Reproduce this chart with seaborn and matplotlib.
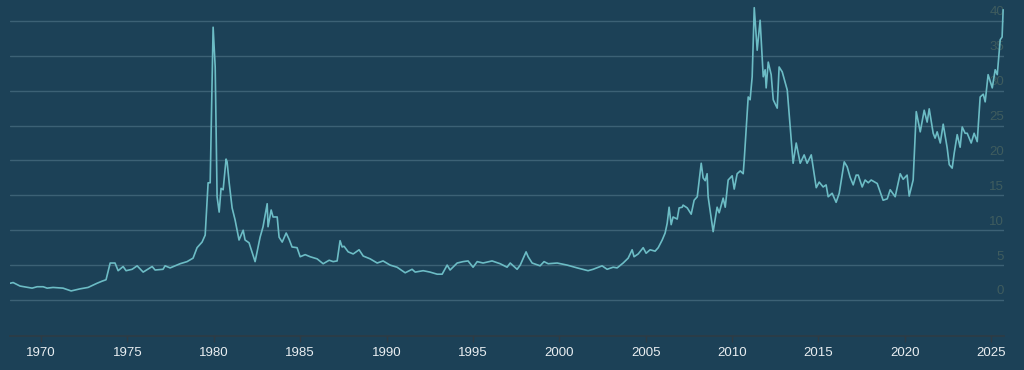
import matplotlib
matplotlib.use("Agg")
import matplotlib.pyplot as plt
import matplotlib.transforms as mtransforms
import seaborn as sns
import pandas as pd

# Data (decimal year, price)
years = [
    1968.21, 1968.38, 1968.78, 1969.48, 1969.77, 1970.12, 1970.35, 1970.69, 1971.27, 1971.74,
    1972.26, 1972.72, 1973.24, 1973.53, 1973.76, 1974.00, 1974.28, 1974.46, 1974.75, 1974.92,
    1975.27, 1975.56, 1975.91, 1976.43, 1976.60, 1977.06, 1977.18, 1977.47, 1978.05, 1978.45,
    1978.80, 1979.03, 1979.32, 1979.50, 1979.67, 1979.79, 1979.96, 1980.08, 1980.19, 1980.31,
    1980.42, 1980.54, 1980.71, 1980.77, 1980.89, 1981.06, 1981.23, 1981.46, 1981.70, 1981.81,
    1982.04, 1982.39, 1982.68, 1982.85, 1983.09, 1983.14, 1983.32, 1983.43, 1983.67, 1983.78,
    1983.96, 1984.19, 1984.36, 1984.53, 1984.82, 1985.00, 1985.29, 1985.58, 1985.98, 1986.33,
    1986.68, 1986.91, 1987.14, 1987.31, 1987.43, 1987.54, 1987.78, 1988.07, 1988.41, 1988.65,
    1989.05, 1989.46, 1989.80, 1990.21, 1990.61, 1991.08, 1991.48, 1991.66, 1992.12, 1992.52,
    1992.93, 1993.22, 1993.51, 1993.68, 1994.09, 1994.43, 1994.72, 1995.01, 1995.25, 1995.59,
    1996.11, 1996.58, 1996.98, 1997.16, 1997.56, 1997.74, 1998.08, 1998.20, 1998.43, 1998.89,
    1999.12, 1999.36, 1999.88, 2000.46, 2001.04, 2001.67, 2001.96, 2002.48, 2002.77, 2003.12,
    2003.35, 2003.70, 2003.99, 2004.22, 2004.33, 2004.57, 2004.86, 2005.03, 2005.26, 2005.55,
    2005.73, 2005.96, 2006.13, 2006.25, 2006.36, 2006.48, 2006.59, 2006.83, 2006.94, 2007.12,
    2007.17, 2007.41, 2007.64, 2007.81, 2007.99, 2008.22, 2008.33, 2008.45, 2008.56, 2008.62,
    2008.91, 2009.14, 2009.26, 2009.49, 2009.61, 2009.78, 2010.01, 2010.13, 2010.30, 2010.48,
    2010.65, 2010.71, 2010.94, 2011.05, 2011.17, 2011.29, 2011.46, 2011.63, 2011.81, 2011.92,
    2011.98, 2012.10, 2012.27, 2012.39, 2012.62, 2012.73, 2012.91, 2013.20, 2013.54, 2013.72,
    2013.95, 2014.18, 2014.35, 2014.59, 2014.88, 2015.05, 2015.28, 2015.45, 2015.57, 2015.80,
    2016.03, 2016.21, 2016.50, 2016.67, 2016.84, 2017.02, 2017.19, 2017.31, 2017.54, 2017.71,
    2017.89, 2018.06, 2018.41, 2018.58, 2018.75, 2018.99, 2019.16, 2019.45, 2019.74, 2019.91,
    2020.14, 2020.26, 2020.49, 2020.67, 2020.90, 2021.13, 2021.30, 2021.42, 2021.65, 2021.76,
    2021.88, 2022.06, 2022.23, 2022.46, 2022.58, 2022.75, 2022.87, 2023.04, 2023.21, 2023.33,
    2023.50, 2023.62, 2023.85, 2024.02, 2024.20, 2024.37, 2024.55, 2024.66, 2024.83, 2025.07,
    2025.24, 2025.36, 2025.53, 2025.64, 2025.70,
]
prices = [
    2.4, 2.5, 2.0, 1.7, 1.9, 1.9, 1.7, 1.8, 1.7, 1.3,
    1.6, 1.8, 2.4, 2.7, 2.9, 5.3, 5.3, 4.2, 4.8, 4.2,
    4.4, 4.9, 4.0, 4.8, 4.3, 4.4, 4.9, 4.6, 5.2, 5.5,
    6.0, 7.5, 8.3, 9.3, 16.8, 16.8, 39.1, 33.4, 14.8, 12.6,
    16.0, 15.8, 20.2, 19.8, 16.8, 13.2, 11.5, 8.6, 10.0, 8.6,
    8.2, 5.5, 9.0, 10.5, 13.8, 10.5, 12.9, 11.9, 11.9, 9.0,
    8.3, 9.6, 8.7, 7.6, 7.5, 6.2, 6.5, 6.2, 5.9, 5.2,
    5.7, 5.5, 5.6, 8.5, 7.6, 7.7, 6.9, 6.6, 7.2, 6.3,
    5.9, 5.3, 5.6, 5.0, 4.7, 3.9, 4.4, 4.0, 4.2, 4.0,
    3.7, 3.7, 5.0, 4.3, 5.3, 5.5, 5.6, 4.7, 5.5, 5.3,
    5.6, 5.2, 4.7, 5.3, 4.4, 5.0, 6.9, 6.2, 5.3, 4.9,
    5.5, 5.2, 5.3, 5.0, 4.6, 4.2, 4.4, 4.9, 4.4, 4.7,
    4.6, 5.3, 6.0, 7.2, 6.2, 6.6, 7.5, 6.7, 7.2, 7.0,
    7.5, 8.6, 9.6, 11.0, 13.3, 10.8, 11.9, 11.6, 13.2, 13.3,
    13.6, 13.2, 12.3, 14.3, 14.8, 19.6, 17.5, 17.1, 18.1, 14.8,
    9.8, 13.3, 12.5, 14.6, 13.3, 17.2, 17.8, 15.9, 18.1, 18.5,
    18.1, 20.1, 29.1, 28.7, 32.0, 41.9, 35.8, 40.1, 32.0, 33.0,
    30.4, 34.1, 32.3, 28.7, 27.5, 33.4, 32.7, 30.1, 19.6, 22.5,
    19.6, 20.8, 19.6, 20.8, 16.1, 16.9, 16.2, 16.5, 14.8, 15.3,
    14.0, 15.3, 19.8, 19.1, 17.6, 16.5, 17.9, 17.9, 16.2, 17.2,
    16.8, 17.2, 16.7, 15.5, 14.3, 14.5, 15.8, 14.8, 18.1, 17.3,
    17.9, 14.9, 17.2, 27.0, 24.1, 27.2, 25.5, 27.4, 23.9, 23.2,
    24.1, 22.5, 25.2, 21.8, 19.4, 18.9, 21.1, 23.7, 21.9, 24.8,
    23.9, 23.9, 22.5, 23.9, 22.7, 29.1, 29.5, 28.4, 32.3, 30.4,
    33.0, 32.3, 37.3, 37.7, 41.6,
]
xtick_years = [1970, 1975, 1980, 1985, 1990, 1995, 2000, 2005, 2010, 2015, 2020, 2025]
ytick_values = [0, 5, 10, 15, 20, 25, 30, 35, 40]

BG = "#1c4157"
GRID = "#3c6175"
LINE = "#6cbcc5"
YLAB = "#3f5c5e"
XLAB = "#e9eef1"
AXIS = "#2e3b44"

df = pd.DataFrame({"year": years, "price": prices})

sns.set_theme(style="dark")
plt.rcParams["font.family"] = ["Liberation Sans", "DejaVu Sans"]

fig = plt.figure(figsize=(10.24, 3.70), dpi=100, facecolor=BG)
ax = fig.add_axes([10 / 1024, 1 - 336 / 370, (1004 - 10) / 1024, 336 / 370])
ax.set_facecolor(BG)

sns.lineplot(data=df, x="year", y="price", ax=ax, color=LINE, linewidth=1.2,
             estimator=None, sort=True)

ax.set_xlim(1968.2, 2025.75)
ax.set_ylim(-5.16, 43.0)

ax.set_yticks(ytick_values)
ax.set_yticklabels([str(v) for v in ytick_values])
ax.yaxis.tick_right()
ax.tick_params(axis="y", length=0, pad=0, labelsize=9.5, labelcolor=YLAB,
               right=False, left=False, labelright=True, labelleft=False)
offset = mtransforms.ScaledTranslation(0, 10 / 100, fig.dpi_scale_trans)
for lab in ax.get_yticklabels():
    lab.set_horizontalalignment("right")
    lab.set_transform(lab.get_transform() + offset)

ax.set_xticks(xtick_years)
ax.set_xticklabels([str(v) for v in xtick_years])
ax.tick_params(axis="x", bottom=True, length=4, width=1, color=AXIS, pad=4,
               labelsize=9.5, labelcolor=XLAB, direction="out")

ax.grid(axis="y", color=GRID, linewidth=1)
ax.grid(axis="x", visible=False)
for side in ["top", "right", "left"]:
    ax.spines[side].set_visible(False)
ax.spines["bottom"].set_visible(True)
ax.spines["bottom"].set_color(AXIS)
ax.spines["bottom"].set_linewidth(1.2)

ax.set_xlabel("")
ax.set_ylabel("")

fig.savefig("out.png", dpi=100, facecolor=BG)
